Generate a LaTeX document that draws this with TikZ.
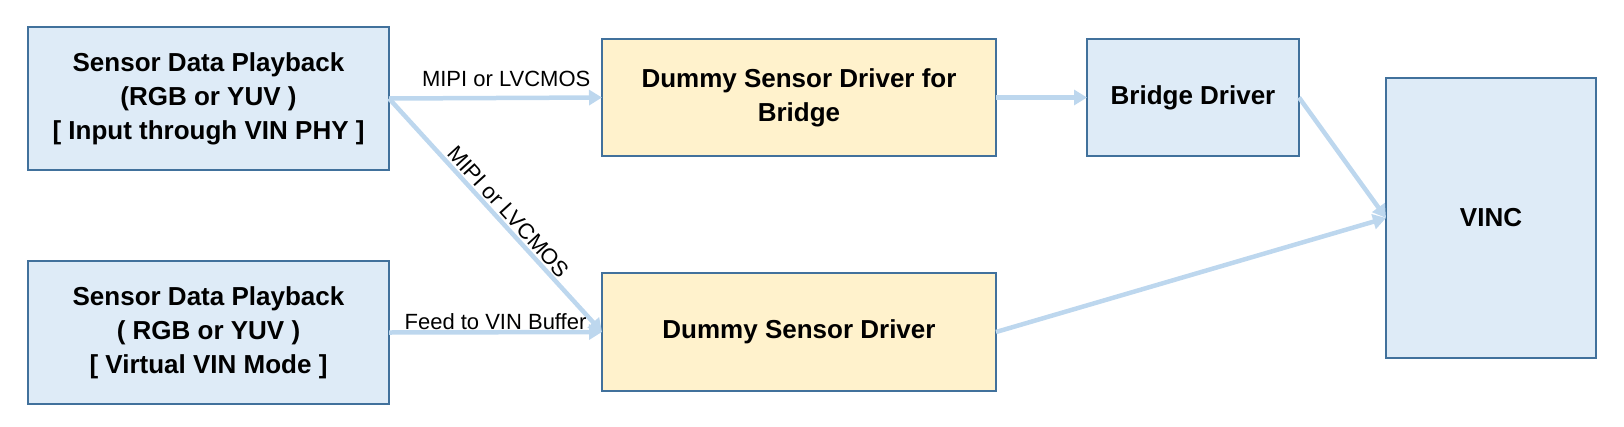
\documentclass[tikz,border=0pt]{standalone}
\usepackage{fontspec}
\setmainfont{Liberation Sans}
\usetikzlibrary{arrows.meta}
\definecolor{bfill}{HTML}{DEEBF7}
\definecolor{yfill}{HTML}{FFF2CC}
\definecolor{bdr}{HTML}{41719C}
\definecolor{arr}{HTML}{BDD7EE}
\begin{document}
\begin{tikzpicture}[x=1pt,y=-1pt,
  box/.style={draw=bdr,line width=2pt,inner sep=0pt,outer sep=0pt,align=center,
    font=\fontsize{26}{34}\selectfont\bfseries},
  bluebox/.style={box,fill=bfill},
  yelbox/.style={box,fill=yfill},
  conn/.style={draw=arr,line width=4.5pt,-{Triangle[length=13pt,width=15pt]}},
  lbl/.style={font=\fontsize{22}{26}\selectfont,text=black}]
\useasboundingbox (0,0) rectangle (1624,426);
\node[bluebox,minimum width=361pt,minimum height=143pt] (sp1) at (208.5,98.5)
  {Sensor Data Playback\\(RGB or YUV )\\{[} Input through VIN PHY ]};
\node[bluebox,minimum width=361pt,minimum height=143pt] (sp2) at (208.5,332.5)
  {Sensor Data Playback\\( RGB or YUV )\\{[} Virtual VIN Mode ]};
\node[yelbox,minimum width=394pt,minimum height=117pt] (dsb) at (799,97.5)
  {Dummy Sensor Driver for\\Bridge};
\node[yelbox,minimum width=394pt,minimum height=118pt] (ds) at (799,332)
  {Dummy Sensor Driver};
\node[bluebox,minimum width=212pt,minimum height=117pt] (bd) at (1193,97.5)
  {Bridge Driver};
\node[bluebox,minimum width=210pt,minimum height=280pt] (vinc) at (1491,218)
  {VINC};
\draw[conn] (sp1.east) -- node[lbl,pos=0.55,above,inner sep=0pt,yshift=9pt] (l1) {MIPI or LVCMOS} (dsb.west);
\draw[conn] (sp1.east) -- node[lbl,pos=0.52,above,sloped,inner sep=2pt] (l2) {MIPI or LVCMOS} (ds.west);
\draw[conn] (sp2.east) -- node[lbl,midway,above,inner sep=0pt] (l3) {Feed to VIN Buffer} (ds.west);
\draw[conn] (dsb.east) -- (bd.west);
\draw[conn] (bd.east) -- (vinc.west);
\draw[conn] (ds.east) -- (vinc.west);
\end{tikzpicture}
\end{document}
